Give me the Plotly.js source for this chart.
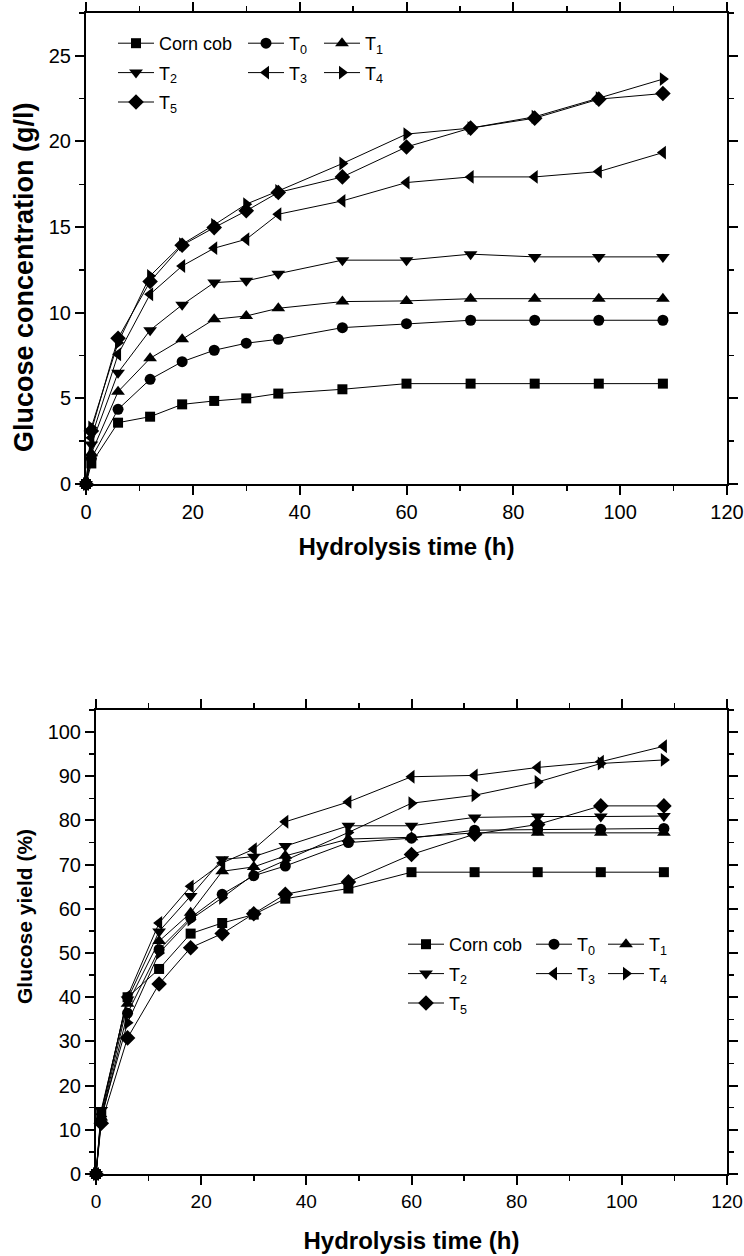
<!DOCTYPE html>
<html>
<head>
<meta charset="utf-8">
<script src="https://cdn.plot.ly/plotly-3.0.1.min.js"></script>
<style>html,body{margin:0;padding:0;background:#fff}#chart{width:744px;height:1256px}</style>
</head>
<body>
<div id="chart"></div>
<script>
// ---- data ----
const hours = [0, 1, 6, 12, 18, 24, 30, 36, 48, 60, 72, 84, 96, 108];
const seriesNames = ['Corn cob', 'T<sub>0</sub>', 'T<sub>1</sub>', 'T<sub>2</sub>', 'T<sub>3</sub>', 'T<sub>4</sub>', 'T<sub>5</sub>'];
const seriesSymbols = ['square', 'circle', 'triangle-up', 'triangle-down', 'triangle-left', 'triangle-right', 'diamond'];

// Glucose concentration (g/l)
const concCornCob = [0, 1.2, 3.58, 3.93, 4.65, 4.85, 5.0, 5.28, 5.53, 5.86, 5.86, 5.86, 5.86, 5.86];
const concT0 = [0, 1.5, 4.36, 6.11, 7.14, 7.81, 8.22, 8.45, 9.13, 9.36, 9.56, 9.56, 9.56, 9.56];
const concT1 = [0, 1.8, 5.39, 7.34, 8.45, 9.62, 9.81, 10.26, 10.65, 10.69, 10.82, 10.82, 10.82, 10.82];
const concT2 = [0, 2.3, 6.5, 8.98, 10.46, 11.76, 11.86, 12.28, 13.07, 13.07, 13.42, 13.26, 13.26, 13.26];
const concT3 = [0, 2.7, 7.57, 11.08, 12.73, 13.77, 14.29, 15.75, 16.53, 17.6, 17.93, 17.93, 18.24, 19.35];
const concT4 = [0, 3.3, 8.25, 12.15, 14.0, 15.13, 16.34, 17.11, 18.71, 20.43, 20.78, 21.44, 22.53, 23.64];
const concT5 = [0, 3.1, 8.51, 11.82, 13.94, 14.97, 15.95, 17.02, 17.93, 19.68, 20.78, 21.36, 22.47, 22.8];

// Glucose yield (%)
const yieldCornCob = [0, 14, 40, 46.4, 54.4, 56.8, 58.7, 62.3, 64.6, 68.3, 68.3, 68.3, 68.3, 68.3];
const yieldT0 = [0, 12.3, 36.4, 50.8, 58.0, 63.3, 67.5, 69.7, 75.0, 76.0, 77.8, 77.9, 78.0, 78.2];
const yieldT1 = [0, 12.8, 38.5, 52.7, 59.1, 68.5, 69.5, 72.0, 75.8, 76.2, 77.2, 77.2, 77.2, 77.2];
const yieldT2 = [0, 14.5, 39.5, 54.9, 62.9, 71.2, 71.8, 74.2, 78.8, 78.8, 80.7, 80.9, 80.9, 81.0];
const yieldT3 = [0, 13.5, 40.2, 56.8, 65.1, 70.4, 73.5, 79.7, 84.2, 89.9, 90.2, 92.0, 93.3, 96.8];
const yieldT4 = [0, 13.0, 34.2, 50.0, 57.6, 62.5, 67.8, 71.0, 77.3, 83.9, 85.7, 88.7, 92.9, 93.7];
const yieldT5 = [0, 11.5, 30.8, 43.0, 51.2, 54.4, 58.9, 63.3, 66.1, 72.3, 76.9, 79.1, 83.3, 83.3];

const concSeries = [concCornCob, concT0, concT1, concT2, concT3, concT4, concT5];
const yieldSeries = [yieldCornCob, yieldT0, yieldT1, yieldT2, yieldT3, yieldT4, yieldT5];

// legend column assignment (0: col1, 1: col2, 2: col3)
const legendColumn = [0, 1, 2, 0, 1, 2, 0];

// ---- styling ----
const FONT = 'Liberation Sans, Arial, sans-serif';
const markerSize = [10, 11, 12, 12, 12, 12, 12];

const traces = [];
function addSeries(values, xa, ya, legendBase) {
  values.forEach((vals, i) => {
    const n = legendBase + legendColumn[i];
    traces.push({
      type: 'scatter', mode: 'lines+markers',
      x: hours, y: vals, xaxis: xa, yaxis: ya,
      name: seriesNames[i],
      legend: n === 1 ? 'legend' : 'legend' + n,
      legendgroup: xa + '_' + i,
      cliponaxis: false,
      line: {color: '#000', width: 1},
      marker: {symbol: seriesSymbols[i], size: markerSize[i], color: '#000'}
    });
  });
}
addSeries(concSeries, 'x', 'y', 1);
addSeries(yieldSeries, 'x2', 'y2', 4);

const W = 744, H = 1256;
function px2x(p) { return p / W; }
function px2y(p) { return 1 - p / H; }

function axisBase(extra) {
  return Object.assign({
    showline: true, linewidth: 2, linecolor: '#000', mirror: 'ticks',
    ticks: 'outside', ticklen: 9, tickwidth: 2, tickcolor: '#000',
    showgrid: false, zeroline: false, ticklabeloverflow: 'allow',
    tickfont: {family: FONT, size: 20, color: '#000'}
  }, extra);
}

function legendAt(xp, yp) {
  return {
    x: px2x(xp), y: px2y(yp), xanchor: 'left', yanchor: 'top',
    orientation: 'v', bgcolor: 'rgba(0,0,0,0)', borderwidth: 0,
    font: {family: FONT, size: 18, color: '#000'},
    tracegroupgap: 3, itemwidth: 36
  };
}

function yTitle(text, size, xc, yc) {
  return {
    text: '<b>' + text + '</b>', textangle: -90, showarrow: false,
    xref: 'paper', yref: 'paper', x: px2x(xc), y: px2y(yc),
    xanchor: 'center', yanchor: 'middle',
    font: {family: FONT, size: size, color: '#000'}
  };
}

const layout = {
  width: W, height: H,
  margin: {l: 0, r: 0, t: 0, b: 0},
  paper_bgcolor: '#fff', plot_bgcolor: '#fff',
  showlegend: true,
  xaxis: axisBase({
    domain: [px2x(86), px2x(727)], range: [0, 120], anchor: 'y',
    dtick: 20, tick0: 0,
    minor: {dtick: 10, ticklen: 5, tickwidth: 1.5, tickcolor: '#000', ticks: 'outside'},
    title: {text: '<b>Hydrolysis time (h)</b>', font: {family: FONT, size: 24, color: '#000'}, standoff: 16}
  }),
  yaxis: axisBase({
    domain: [px2y(484), px2y(13)], range: [0, 27.5], anchor: 'x',
    dtick: 5, tick0: 0,
    minor: {dtick: 2.5, ticklen: 5, tickwidth: 1.5, tickcolor: '#000', ticks: 'outside'}
  }),
  xaxis2: axisBase({
    domain: [px2x(96), px2x(727)], range: [0, 120], anchor: 'y2',
    dtick: 20, tick0: 0,
    tickfont: {family: FONT, size: 19, color: '#000'},
    minor: {dtick: 10, ticklen: 5, tickwidth: 1.5, tickcolor: '#000', ticks: 'outside'},
    title: {text: '<b>Hydrolysis time (h)</b>', font: {family: FONT, size: 24, color: '#000'}, standoff: 21}
  }),
  yaxis2: axisBase({
    domain: [px2y(1174), px2y(710)], range: [0, 105], anchor: 'x2',
    dtick: 10, tick0: 0,
    minor: {dtick: 5, ticklen: 5, tickwidth: 1.5, tickcolor: '#000', ticks: 'outside'}
  }),
  annotations: [
    yTitle('Glucose concentration (g/l)', 27, 24, 277),
    yTitle('Glucose yield (%)', 21, 24, 917)
  ],
  legend: legendAt(113, 25),
  legend2: legendAt(243, 25),
  legend3: legendAt(319, 25),
  legend4: legendAt(403, 926),
  legend5: legendAt(531, 926),
  legend6: legendAt(603, 926)
};

Plotly.newPlot('chart', traces, layout, {staticPlot: true});
</script>
</body>
</html>
